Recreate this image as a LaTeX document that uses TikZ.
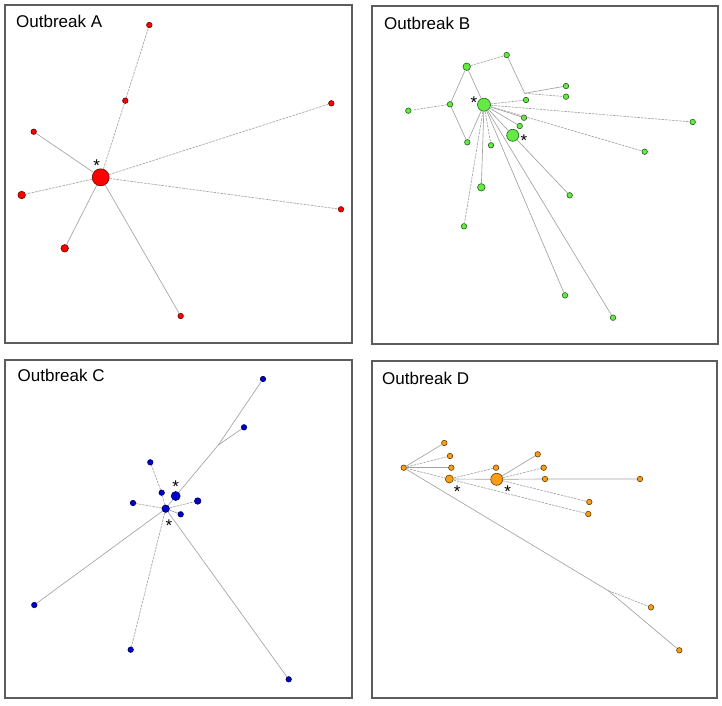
\documentclass[tikz,border=0pt]{standalone}
\usepackage{fontspec}
\setmainfont{Liberation Sans}
\definecolor{frameGray}{HTML}{5C5C5C}
\definecolor{edgeGray}{HTML}{A2A2A2}
\definecolor{aRed}{HTML}{FF0000}
\definecolor{aRedD}{HTML}{6A0000}
\definecolor{bGreen}{HTML}{63EA44}
\definecolor{bGreenD}{HTML}{24601A}
\definecolor{cBlue}{HTML}{0000D0}
\definecolor{cBlueD}{HTML}{00005E}
\definecolor{dOrange}{HTML}{FF9C14}
\definecolor{dOrangeD}{HTML}{604000}

\begin{document}
\begin{tikzpicture}[x=1pt,y=-1pt,
  frame/.style={draw=frameGray,line width=1.3pt},
  title/.style={anchor=base west,inner sep=0pt,font=\fontsize{17}{20}\selectfont},
  star/.style={inner sep=0pt,font=\fontsize{17}{17}\selectfont},
  vtx/.style={circle,inner sep=0pt,line width=0.6pt,minimum size=5.5pt},
  md/.style={minimum size=7.5pt},
  vA/.style={vtx,fill=aRed,draw=aRedD},
  vB/.style={vtx,fill=bGreen,draw=bGreenD},
  vC/.style={vtx,fill=cBlue,draw=cBlueD},
  vD/.style={vtx,fill=dOrange,draw=dOrangeD},
  edge/.style={draw=edgeGray,line width=0.65pt},
  dsh/.style={edge,dash pattern=on 2.5pt off 1pt}]
  \useasboundingbox (0,0) rectangle (722,705);

  % panel frames and titles
  \draw[frame] (5,5) rectangle (352,343);
  \draw[frame] (372,6) rectangle (718,344);
  \draw[frame] (5,360) rectangle (352,698);
  \draw[frame] (372,361) rectangle (717,698);
  \node[title] (tA) at (16,27) {Outbreak A};
  \node[title] (tB) at (384,29) {Outbreak B};
  \node[title] (tC) at (17.5,381.5) {Outbreak C};
  \node[title] (tD) at (382,384) {Outbreak D};

  % Outbreak A
  \node[vA,minimum size=17pt] (a0) at (100.7,177.3) {};
  \node[vA] (a1) at (149.3,25) {};
  \node[vA] (a2) at (125.3,100.7) {};
  \node[vA] (a3) at (33.7,131.7) {};
  \node[vA] (a4) at (331.3,103.3) {};
  \node[vA,md] (a5) at (21.7,195) {};
  \node[vA] (a6) at (341,209.3) {};
  \node[vA,md] (a7) at (64.7,248.3) {};
  \node[vA] (a8) at (180.7,316) {};
  \node[star] (sa) at (96.7,166) {*};
  \draw[dsh] (a0)--(a2)--(a1);
  \foreach \n in {a4,a5,a6} \draw[dsh] (a0)--(\n);
  \foreach \n in {a3,a7,a8} \draw[edge] (a0)--(\n);

  % Outbreak B
  \node[vB,minimum size=13pt] (b0) at (484,104.7) {};
  \node[vB,minimum size=12pt] (b1) at (512.7,135.3) {};
  \node[vB,md] (b2) at (466.7,66.7) {};
  \node[vB] (b3) at (506.7,55) {};
  \node[vB] (b4) at (450,104.3) {};
  \node[vB] (b5) at (408.3,110.7) {};
  \node[vB] (b6) at (467.3,142.3) {};
  \node[vB] (b7) at (526,100) {};
  \node[vB] (b8) at (566,86) {};
  \node[vB] (b9) at (566,96.7) {};
  \node[vB] (b10) at (524,117.7) {};
  \node[vB] (b11) at (519.7,126) {};
  \node[vB] (b12) at (692.7,122) {};
  \node[vB] (b13) at (644.7,151.7) {};
  \node[vB] (b14) at (491,145.3) {};
  \node[vB,md] (b15) at (481.3,187.3) {};
  \node[vB] (b16) at (569.7,195.3) {};
  \node[vB] (b17) at (464,226.3) {};
  \node[vB] (b18) at (565,295.3) {};
  \node[vB] (b19) at (613,317.7) {};
  \coordinate (kB) at (524.7,93.3);
  \node[star] (sb0) at (474,103) {*};
  \node[star] (sb1) at (524,140.5) {*};
  \draw[edge] (b0)--(b2)--(b4)--(b6)--(b0);
  \draw[dsh] (b2)--(b3);
  \draw[dsh] (b4)--(b5);
  \draw[edge] (b3)--(kB)--(b8);
  \draw[dsh] (kB)--(b9);
  \foreach \n in {b7,b12,b13,b14,b17} \draw[dsh] (b0)--(\n);
  \foreach \n in {b1,b10,b11,b15,b18,b19} \draw[edge] (b0)--(\n);
  \draw[edge] (b1)--(b16);

  % Outbreak C
  \node[vC,minimum size=7.5pt] (c0) at (165.7,508.7) {};
  \node[vC,minimum size=9pt] (c1) at (175.7,496) {};
  \node[vC,minimum size=6.5pt] (c2) at (197.7,501) {};
  \node[vC] (c3) at (180.7,514.3) {};
  \node[vC] (c4) at (161.7,492.7) {};
  \node[vC] (c5) at (150.3,462.3) {};
  \node[vC] (c6) at (133,503) {};
  \node[vC] (c7) at (263,379) {};
  \node[vC] (c8) at (244,427.3) {};
  \node[vC] (c9) at (34.3,605) {};
  \node[vC] (c10) at (130.7,649.7) {};
  \node[vC] (c11) at (288.7,679.3) {};
  \coordinate (kC) at (218.3,445);
  \node[star] (sc1) at (175.7,486.5) {*};
  \node[star] (sc0) at (169,525.5) {*};
  \draw[dsh] (c0)--(c4)--(c5);
  \foreach \n in {c2,c6,c10} \draw[dsh] (c0)--(\n);
  \foreach \n in {c1,c3,c9,c11} \draw[edge] (c0)--(\n);
  \draw[edge] (c1)--(kC)--(c7);
  \draw[edge] (kC)--(c8);

  % Outbreak D
  \node[vD] (d0) at (403.7,467.7) {};
  \node[vD,minimum size=8pt] (d1) at (449.3,479) {};
  \node[vD,minimum size=12pt] (d2) at (496.7,479.3) {};
  \node[vD] (d3) at (444.3,443) {};
  \node[vD] (d4) at (450,456) {};
  \node[vD] (d5) at (451.3,467.7) {};
  \node[vD] (d6) at (496,467.7) {};
  \node[vD] (d7) at (537.7,454.3) {};
  \node[vD] (d8) at (543.7,467.7) {};
  \node[vD] (d9) at (545,479) {};
  \node[vD] (d10) at (640,479) {};
  \node[vD] (d11) at (589.3,502) {};
  \node[vD] (d12) at (588.3,514) {};
  \node[vD] (d13) at (651,607.3) {};
  \node[vD] (d14) at (679.3,650.3) {};
  \coordinate (kD) at (608.3,590.7);
  \node[star] (sd1) at (457.3,492) {*};
  \node[star] (sd2) at (507.7,492) {*};
  \foreach \n in {d3,d5} \draw[edge] (d0)--(\n);
  \foreach \n in {d1,d4} \draw[dsh] (d0)--(\n);
  \draw[edge] (d0)--(kD)--(d14);
  \draw[dsh] (kD)--(d13);
  \draw[dsh] (d1)--(d6);
  \draw[dsh] (d1)--(d12);
  \draw[edge] (d1)--(d2);
  \draw[edge] (d2)--(d7);
  \draw[dsh] (d2)--(d8);
  \draw[dsh] (d2)--(d11);
  \draw[edge] (d2)--(d9)--(d10);
\end{tikzpicture}
\end{document}
